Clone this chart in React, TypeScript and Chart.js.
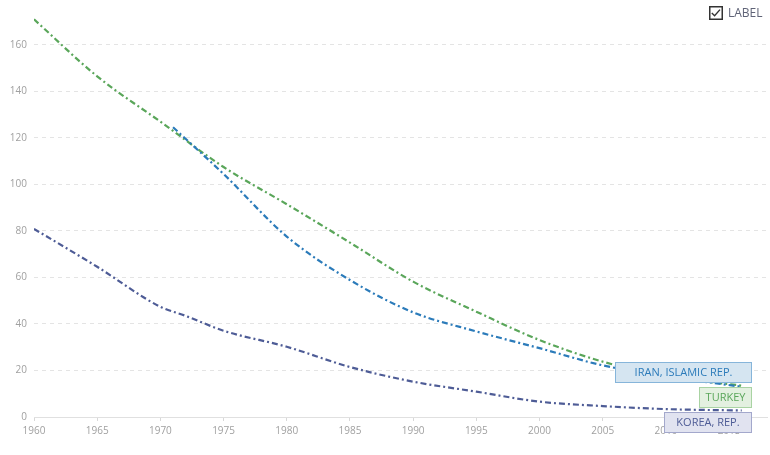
import React, { useEffect, useRef } from "react";
import { Chart, registerables } from "chart.js";

Chart.register(...registerables);

const turkeyYears = [1960, 1965, 1970, 1975, 1980, 1985, 1990, 1995, 2000, 2005, 2010, 2016];
const turkeyValues = [171, 146.5, 127, 107.5, 91.5, 75, 58.2, 45.3, 33.1, 23.8, 17.5, 13.5];

const iranYears = [1971, 1975, 1980, 1985, 1990, 1995, 2000, 2005, 2010, 2016];
const iranValues = [124.6, 104.5, 77.6, 58.9, 45, 36.8, 29.6, 22.2, 17.5, 13];

const koreaYears = [1960, 1965, 1970, 1972, 1975, 1980, 1985, 1990, 1995, 2000, 2005, 2010, 2016];
const koreaValues = [80.9, 64.6, 47.4, 43.5, 37.1, 30.2, 21.5, 15.2, 10.9, 6.6, 4.7, 3.4, 2.8];

const seriesNames = ["IRAN, ISLAMIC REP.", "TURKEY", "KOREA, REP."];
const lineColors = ["#2b7bba", "#5aa65a", "#4e5c96"];
const boxFills = ["#d5e5f1", "#e3f0e0", "#e1e3f0"];
const boxBorders = ["#86b5da", "#a9d3a3", "#a3a8cc"];
const boxWidths = [136, 52, 87];

const FONT = "'Open Sans', 'Noto Sans', sans-serif";

const pts = (xs: number[], ys: number[]) => xs.map((x, i) => ({ x, y: ys[i] }));

const endLabels = {
  id: "endLabels",
  afterDatasetsDraw(chart: any) {
    const ctx = chart.ctx;
    const order = [2, 1, 0];
    let centerY = 0;
    ctx.save();
    ctx.font = `11px ${FONT}`;
    order.forEach((di, k) => {
      const meta = chart.getDatasetMeta(di);
      const last = meta.data[meta.data.length - 1];
      if (k === 0) centerY = last.y + 11.5;
      else centerY -= 25;
      const text = seriesNames[di];
      const w = boxWidths[di];
      const h = 20;
      const right = Math.round(last.x + 9) + 0.5;
      const left = right - w;
      const top = Math.round(centerY - h / 2) + 0.5;
      ctx.fillStyle = boxFills[di];
      ctx.strokeStyle = boxBorders[di];
      ctx.lineWidth = 1;
      ctx.fillRect(left, top, w, h);
      ctx.strokeRect(left, top, w, h);
      ctx.fillStyle = lineColors[di];
      ctx.textAlign = "center";
      ctx.textBaseline = "middle";
      ctx.fillText(text, left + w / 2, top + h / 2 + 0.5);
    });
    ctx.restore();
  },
};

export default function App() {
  const ref = useRef<HTMLCanvasElement | null>(null);
  useEffect(() => {
    if (!ref.current) return;
    const mk = (i: number, data: any[]) => ({
      label: seriesNames[i],
      data,
      borderColor: lineColors[i],
      backgroundColor: lineColors[i],
      borderWidth: 2.2,
      borderDash: [6, 3, 2, 3],
      pointRadius: 0,
      cubicInterpolationMode: "monotone" as const,
      fill: false,
    });
    const chart = new Chart(ref.current, {
      type: "line",
      data: {
        datasets: [
          mk(0, pts(iranYears, iranValues)),
          mk(1, pts(turkeyYears, turkeyValues)),
          mk(2, pts(koreaYears, koreaValues)),
        ],
      },
      options: {
        animation: false,
        responsive: false,
        maintainAspectRatio: false,
        layout: { padding: { top: 17, right: 3, left: 0, bottom: 0 } },
        plugins: { legend: { display: false }, tooltip: { enabled: false } },
        scales: {
          x: {
            type: "linear",
            min: 1960,
            max: 2018,
            afterFit: (s: any) => {
              s.height = 38;
            },
            grid: {
              drawOnChartArea: false,
              drawTicks: true,
              tickLength: 4,
              color: "#d8d8d8",
            },
            border: { color: "#e0e0e0", width: 1 },
            ticks: {
              stepSize: 5,
              includeBounds: false,
              maxRotation: 0,
              padding: 4,
              color: "#a0a0a0",
              font: { family: FONT, size: 10 },
              callback: (v: any) => String(v),
            },
          },
          y: {
            min: 0,
            max: 172,
            afterFit: (s: any) => {
              s.width = 34;
            },
            grid: {
              color: "#e4e4e4",
              drawTicks: false,
            },
            border: { display: false, dash: [4, 4] },
            ticks: {
              stepSize: 20,
              includeBounds: false,
              padding: 7,
              color: "#a0a0a0",
              font: { family: FONT, size: 10 },
              callback: (v: any) => String(v),
            },
          },
        },
      },
      plugins: [endLabels],
    });
    return () => chart.destroy();
  }, []);

  return (
    <div style={{ position: "fixed", left: 0, top: 0, width: 770, height: 455, background: "#fff" }}>
      <canvas ref={ref} width={770} height={455} style={{ display: "block", width: 770, height: 455 }} />
      <div
        style={{
          position: "absolute",
          left: 709,
          top: 4,
          display: "flex",
          alignItems: "center",
          fontFamily: FONT,
          fontSize: 12,
          color: "#5f6377",
        }}
      >
        <svg width="14" height="14" viewBox="0 0 14 14" style={{ display: "block" }}>
          <rect x="0.75" y="0.75" width="12.5" height="12.5" fill="#fff" stroke="#333" strokeWidth="1.5" />
          <polyline points="2.8,7 5.6,9.8 11,3.6" fill="none" stroke="#333" strokeWidth="1.4" />
        </svg>
        <span style={{ marginLeft: 5 }}>LABEL</span>
      </div>
    </div>
  );
}
